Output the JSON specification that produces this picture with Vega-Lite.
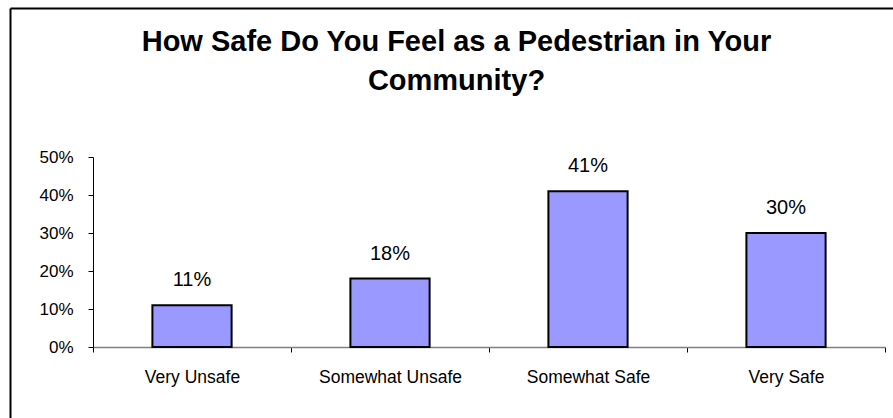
{
  "$schema": "https://vega.github.io/schema/vega-lite/v6.json",
  "autosize": {"type": "none"},
  "padding": {"left": 10, "top": 8, "right": 0, "bottom": 0},
  "width": 883,
  "height": 410,
  "background": "white",
  "view": {"stroke": null, "fill": "white"},
  "title": {
    "text": ["How Safe Do You Feel as a Pedestrian in Your", "Community?"],
    "font": "Liberation Sans",
    "fontSize": 29,
    "fontWeight": "bold",
    "color": "#000000",
    "lineHeight": 39,
    "anchor": "middle",
    "frame": "group",
    "dx": 5,
    "offset": -88
  },
  "data": {
    "values": [
      {"category": "Very Unsafe", "share": 0.11},
      {"category": "Somewhat Unsafe", "share": 0.18},
      {"category": "Somewhat Safe", "share": 0.41},
      {"category": "Very Safe", "share": 0.30}
    ]
  },
  "layer": [
    {
      "mark": {"type": "point", "opacity": 0},
      "encoding": {
        "x": {
          "field": "share",
          "type": "quantitative",
          "axis": {"orient": "top", "offset": 0, "title": null, "labels": false, "ticks": false, "grid": false, "domainColor": "#000000", "domainWidth": 2}
        },
        "y": {
          "field": "share",
          "type": "quantitative",
          "axis": {"orient": "left", "offset": 0, "title": null, "labels": false, "ticks": false, "grid": false, "domainColor": "#000000", "domainWidth": 2}
        }
      }
    },
    {
      "encoding": {
        "x": {
          "field": "category",
          "type": "nominal",
          "sort": null,
          "scale": {"range": [83, 875], "paddingInner": 0, "paddingOuter": 0},
          "axis": {
            "orient": "bottom",
            "title": null,
            "labelAngle": 0,
            "labelFont": "Liberation Sans",
            "labelFontSize": 17.5,
            "labelColor": "#000000",
            "labelPadding": 16,
            "tickBand": "extent",
            "tickSize": 5,
            "tickColor": "#000000",
            "domainColor": "#808080",
            "domainWidth": 1.5,
            "offset": -71
          }
        },
        "y": {
          "field": "share",
          "type": "quantitative",
          "scale": {"domain": [0, 0.5], "range": [339, 149], "nice": false, "zero": true},
          "axis": {
            "orient": "left",
            "title": null,
            "values": [0, 0.1, 0.2, 0.3, 0.4, 0.5],
            "format": ".0%",
            "grid": false,
            "labelFont": "Liberation Sans",
            "labelFontSize": 17,
            "labelColor": "#000000",
            "labelPadding": 15,
            "tickSize": 5,
            "tickColor": "#000000",
            "domainColor": "#000000",
            "offset": -83
          }
        }
      },
      "layer": [
        {
          "mark": {"type": "bar", "width": {"band": 0.4}, "color": "#9999FF", "stroke": "#000000", "strokeWidth": 2}
        },
        {
          "mark": {"type": "text", "baseline": "alphabetic", "dy": -19, "font": "Liberation Sans", "fontSize": 20, "color": "#000000"},
          "encoding": {"text": {"field": "share", "type": "quantitative", "format": ".0%"}}
        }
      ]
    }
  ],
  "resolve": {"scale": {"x": "independent", "y": "independent"}, "axis": {"x": "independent", "y": "independent"}}
}
